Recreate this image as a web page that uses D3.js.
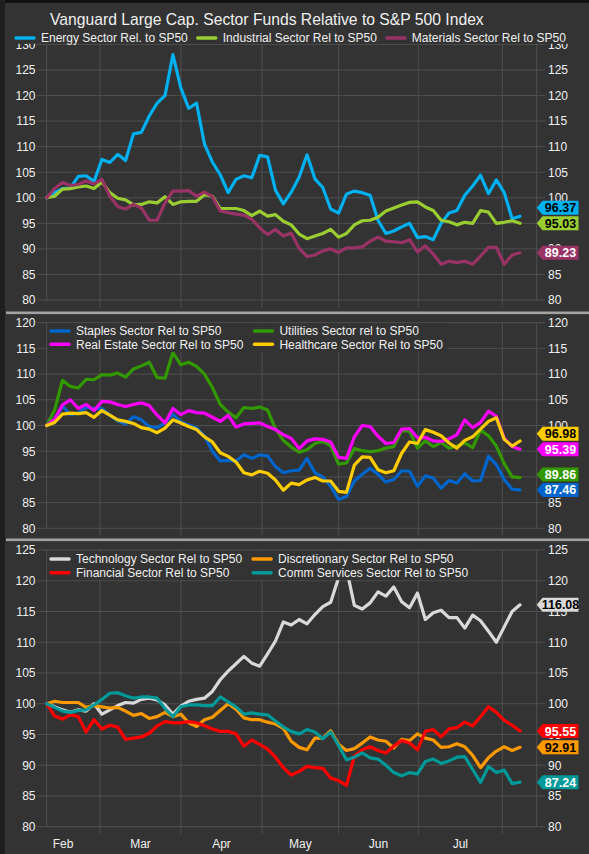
<!DOCTYPE html>
<html>
<head>
<meta charset="utf-8">
<script src="https://cdn.jsdelivr.net/npm/d3@7"></script>
<style>
  html, body { margin: 0; padding: 0; background: #333333; }
  svg { display: block; font-family: "Liberation Sans", Arial, sans-serif; }
</style>
</head>
<body>
<div id="chart"></div>
<script>
// ---- data (one value every ~2 sessions, Feb -> early Aug), all rebased to 100 ----
var monthLabels = ["Feb", "Mar", "Apr", "May", "Jun", "Jul"];
var monthStarts = [-2.6, 6.76, 17.03, 27.3, 37.02, 47.11, 57.76];   // in sample-index units

var ticksTop = [80, 85, 90, 95, 100, 105, 110, 115, 120, 125, 130];
var ticksMid = [80, 85, 90, 95, 100, 105, 110, 115, 120];
var ticksBot = [80, 85, 90, 95, 100, 105, 110, 115, 120, 125];

var energy = [100, 101, 101.8, 101.9, 104.2, 104.3, 103.2, 107.5, 106.9, 108.5,
  107.3, 112.5, 112.8, 116, 118.5, 120, 128, 121.5, 117.5, 118.5,
  110.5, 107, 104.5, 101, 103.6, 104.3, 103.9, 108.3, 108, 101.5,
  98.8, 101.1, 104, 108.4, 103.7, 102, 97.8, 97, 100.7, 101.3,
  101, 100.5, 95.6, 93, 93.5, 94.3, 95, 92.2, 92.4, 91.8,
  95, 97, 97.5, 100.5, 102.3, 104.4, 100.8, 103.5, 101, 95.9, 96.37];
var industrial = [100, 100.3, 101.7, 101.8, 102.1, 102.3, 101.8, 103.1, 101, 99.9,
  99.6, 98.6, 98.7, 99.2, 99, 100.2, 98.7, 99.2, 99.3, 99.3,
  100.6, 100.3, 97.9, 97.9, 97.9, 97.5, 96.5, 97.4, 96.4, 96.7,
  95.4, 94.7, 92.9, 92, 92.5, 93, 93.8, 92.3, 93, 94.7,
  95.5, 95.6, 96.2, 97.4, 98, 98.6, 99.1, 99.2, 98.2, 97.5,
  95.6, 95.3, 94.7, 95.2, 95, 97.5, 97.2, 95, 95.2, 95.5, 95.03];
var materials = [100, 101.8, 103, 102.4, 102.6, 103.3, 102.7, 103.6, 100.3, 98.3,
  97.8, 98.7, 98, 95.6, 95.6, 99, 101.3, 101.3, 101.4, 100.3,
  101.1, 100.2, 97.4, 97.1, 96.8, 96.6, 95.8, 94.1, 92.8, 93.8,
  92.5, 93.1, 90.1, 88.5, 88.8, 89.6, 90, 89.3, 90.2, 90.2,
  90.4, 91.5, 92.3, 91.5, 91.4, 91.2, 91.8, 89.4, 90.6, 89,
  87, 87.6, 87.3, 87.6, 87, 88.6, 90.3, 90.3, 87, 88.8, 89.23];

var staples = [100, 101, 103.8, 102.1, 102.4, 103.5, 103.3, 103.3, 102, 100.9,
  100.3, 101.7, 101.1, 99.8, 99.6, 100.5, 102.2, 100.7, 100.1, 99.5,
  98, 95, 93.1, 93.2, 93.1, 94.3, 93.6, 94.3, 94.1, 92,
  90.8, 91.2, 91.3, 93.6, 90.8, 90, 88.2, 85.6, 86.2, 89.2,
  90.5, 91.7, 90.5, 89, 89.5, 91.2, 91.1, 88.2, 90.2, 89.8,
  87.8, 89.3, 88.8, 90.6, 89.2, 89.3, 94, 92.4, 89.5, 87.6, 87.46];
var utilities = [100, 103, 108.8, 107.6, 107.3, 109, 108.9, 109.9, 109.8, 110.2,
  109.4, 111, 111.6, 112.3, 109.3, 109.2, 114.2, 111.8, 112.3, 111.5,
  110, 107.4, 104.1, 102.6, 101.5, 103.5, 103.3, 103.6, 103, 99.4,
  97.1, 95.8, 94.8, 95.3, 96.5, 96.9, 96.1, 92.5, 92.7, 95.5,
  95.1, 94.9, 95.1, 95.6, 95.9, 99, 98.9, 95.6, 97, 95.9,
  96.7, 95.6, 96, 96.6, 95.7, 99.1, 98, 96, 92.6, 90, 89.86];
var realEstate = [100, 101.2, 104, 105, 103.3, 104.1, 102.9, 104.7, 104.6, 104.1,
  103.7, 104.1, 104.4, 103.9, 102, 100.5, 103.3, 102.1, 102.9, 102.5,
  102.4, 101.6, 100.8, 102, 99.7, 100.3, 100.4, 100.5, 99.8, 99.2,
  98.2, 97.5, 95.5, 97, 97.4, 97.3, 96.8, 93.8, 93.6, 97.8,
  100, 99.8, 97.9, 96.5, 96.7, 99.3, 99.4, 97.6, 97.7, 97,
  96.9, 97.4, 98.2, 101.1, 99.6, 100.6, 102.8, 101.8, 97.5, 95.9, 95.39];
var healthcare = [100, 100.6, 102.2, 102.4, 102.3, 102.5, 101.6, 102.9, 102, 101.1,
  100.8, 100.4, 99.6, 99.3, 98.6, 99.5, 101.1, 100.5, 99.8, 99.2,
  97.8, 96.8, 94.7, 94, 92.9, 90.8, 90.4, 91.1, 90.7, 89.4,
  87.4, 88.8, 88.5, 89.4, 89.9, 89.2, 89.2, 87.2, 87, 92.3,
  93.9, 93.8, 91.4, 90.8, 91.2, 94.6, 96.8, 96.5, 99.2, 98.7,
  98, 96.6, 95.6, 97.1, 97.8, 99.3, 100.8, 101.5, 97.3, 96, 96.98];

var technology = [100, 99.5, 99, 98.6, 99, 98.8, 100, 98.3, 99, 99.7,
  100.2, 100.1, 100.7, 100.9, 100.6, 99.8, 98.3, 99.6, 100.4, 100.7,
  100.9, 102, 103.9, 105.3, 106.5, 107.7, 106.6, 106.1, 108.1, 110.2,
  113.3, 112.8, 113.7, 113, 114.5, 115.8, 116.5, 120.5, 122, 116,
  115.4, 116.4, 118.2, 117.5, 119, 116.6, 115.6, 118, 113.7, 114.8,
  115.2, 114, 114, 112.3, 114.4, 113.5, 111.8, 110, 112.5, 115, 116.08];
var discretionary = [100, 100.4, 100.2, 100.2, 100.2, 99.4, 99.7, 99.5, 99.3, 99.4,
  98.8, 98.1, 98.4, 97.6, 97.9, 98.6, 97.9, 98.3, 96.9, 96.3,
  97.4, 97.8, 98.9, 100, 99.1, 97.7, 97.4, 97.4, 97, 96.7,
  96, 93.9, 92.9, 92.5, 94.4, 94.4, 95.6, 93.4, 92.4, 92.7,
  93.6, 94.6, 94.1, 93.9, 92.8, 94.2, 94, 95.1, 94.4, 94.1,
  92.9, 93, 93.5, 93, 91.6, 89.6, 91.2, 92.3, 93, 92.4, 92.91];
var financial = [100, 98, 97.5, 98.2, 97.9, 95.4, 97.4, 95.9, 96.5, 96.2,
  94.2, 94.4, 94.6, 95.2, 96.4, 97.1, 96.9, 96.9, 97.1, 96.9,
  96.4, 95.9, 95.5, 95.5, 95.1, 93.1, 94.1, 93.4, 92.6, 91.3,
  89.6, 88.4, 89, 89.8, 89.6, 89.5, 87.9, 87.5, 86.7, 91.5,
  92.5, 93, 92.4, 92, 93.1, 94, 93.6, 92.5, 95.5, 95.8,
  94.6, 95.9, 96.1, 97, 96.4, 97.9, 99.5, 98.6, 97.3, 96.5, 95.55];
var commServices = [100, 99.4, 98.8, 98.6, 98.9, 99, 99.8, 100.7, 101.7, 101.8,
  101.3, 100.9, 101.1, 101.1, 100.9, 99.2, 97.9, 99.5, 99.8, 99.8,
  99.7, 99.7, 101.1, 100.3, 99.5, 98.3, 98.5, 98.3, 98.2, 97.2,
  96.2, 95.5, 95.1, 95.8, 95.4, 94.3, 95.4, 93.2, 90.9, 91.3,
  92, 91.2, 91, 90, 88.8, 88.3, 88.8, 88.6, 90.6, 91,
  90.3, 90.7, 91.3, 91.4, 89.3, 87.2, 89.8, 88.8, 89.2, 87, 87.24];

// ---- layout ----
var W = 589, H = 854;
var plotL = 46.7, plotR = 536.7;
var gridColor = "#4f4f4f", textColor = "#f0f0f0";

var panels = [
  { top: 44.4, bottom: 300, domain: [80, 130], ticks: ticksTop, legendRows: [38], legendX: 15,
    series: [
      { name: "Energy Sector Rel. to SP50", values: energy, color: "#00b0f0", label: "#000" },
      { name: "Industrial Sector Rel to SP50", values: industrial, color: "#9ACD32", label: "#000" },
      { name: "Materials Sector Rel to SP50", values: materials, color: "#993366", label: "#fff" }
    ] },
  { top: 322.7, bottom: 528.3, domain: [80, 120], ticks: ticksMid, legendRows: [331, 344.3], legendX: 50,
    series: [
      { name: "Staples Sector Rel to SP50", values: staples, color: "#0066cc", label: "#fff" },
      { name: "Utilities Sector rel to SP50", values: utilities, color: "#339900", label: "#fff" },
      { name: "Real Estate Sector Rel to SP50", values: realEstate, color: "#ff00ff", label: "#fff" },
      { name: "Healthcare Sector Rel to SP50", values: healthcare, color: "#ffcc00", label: "#000" }
    ] },
  { top: 550, bottom: 826.7, domain: [80, 125], ticks: ticksBot, legendRows: [559, 572.7], legendX: 50,
    series: [
      { name: "Technology Sector Rel to SP50", values: technology, color: "#d9d9d9", label: "#000" },
      { name: "Discretionary Sector Rel to SP50", values: discretionary, color: "#ff9900", label: "#000" },
      { name: "Financial Sector Rel to SP50", values: financial, color: "#ff0000", label: "#fff" },
      { name: "Comm Services Sector Rel to SP50", values: commServices, color: "#009999", label: "#fff" }
    ] }
];

var svg = d3.select("#chart").append("svg").attr("width", W).attr("height", H);
svg.append("rect").attr("width", W).attr("height", H).attr("fill", "#333333");
svg.append("rect").attr("width", W).attr("height", 3).attr("fill", "#111");
svg.append("rect").attr("width", 5).attr("height", H).attr("fill", "#1e1e1e");

var x = d3.scaleLinear().domain([0, energy.length - 1]).range([plotL, 520]);

svg.append("text").attr("x", 50).attr("y", 25)
  .attr("font-size", "15.7px").attr("fill", textColor)
  .text("Vanguard Large Cap. Sector Funds Relative to S&P 500 Index");

panels.forEach(function (p) {
  var g = svg.append("g");
  var y = d3.scaleLinear().domain(p.domain).range([p.bottom, p.top]);

  // horizontal grid + ticks on both sides
  g.selectAll(".hg").data(p.ticks).enter().append("line")
    .attr("x1", 37).attr("x2", 545)
    .attr("y1", function (d) { return y(d); }).attr("y2", function (d) { return y(d); })
    .attr("stroke", gridColor).attr("stroke-width", 1);

  // month boundaries
  g.selectAll(".vg").data(monthStarts.filter(function (m) { return m > 0; })).enter().append("line")
    .attr("x1", function (d) { return x(d); }).attr("x2", function (d) { return x(d); })
    .attr("y1", p.top).attr("y2", p.bottom + 7)
    .attr("stroke", gridColor).attr("stroke-width", 1);

  [plotL, plotR].forEach(function (ax) {
    g.append("line").attr("x1", ax).attr("x2", ax).attr("y1", p.top).attr("y2", p.bottom)
      .attr("stroke", gridColor).attr("stroke-width", 1);
  });

  // axis labels
  g.selectAll(".yl").data(p.ticks).enter().append("text")
    .attr("x", 35.5).attr("y", function (d) { return y(d); }).attr("dy", "0.36em")
    .attr("text-anchor", "end").attr("font-size", "12px").attr("fill", textColor)
    .text(function (d) { return d; });
  g.selectAll(".yr").data(p.ticks).enter().append("text")
    .attr("x", 548).attr("y", function (d) { return y(d); }).attr("dy", "0.36em")
    .attr("font-size", "12px").attr("fill", textColor)
    .text(function (d) { return d; });

  // series
  var line = d3.line()
    .x(function (d, i) { return x(i); })
    .y(function (d) { return y(d); });
  p.series.forEach(function (s) {
    g.append("path").attr("d", line(s.values))
      .attr("fill", "none").attr("stroke", s.color).attr("stroke-width", 3.2)
      .attr("stroke-linejoin", "round").attr("stroke-linecap", "round");
  });

  // legend
  var lg = g.append("g");
  var box = lg.append("rect").attr("fill", "#333333");
  var items = lg.selectAll(".li").data(p.series).enter().append("g");
  items.append("line")
    .attr("stroke", function (d) { return d.color; }).attr("stroke-width", 3.5)
    .attr("stroke-linecap", "round");
  items.append("text").attr("font-size", "12px").attr("fill", textColor).attr("dy", "0.36em")
    .text(function (d) { return d.name; });

  if (p.legendRows.length === 1) {
    var cx = p.legendX;
    items.each(function () {
      var it = d3.select(this);
      var ty = p.legendRows[0];
      it.select("line").attr("x1", cx + 1).attr("x2", cx + 19).attr("y1", ty).attr("y2", ty);
      var t = it.select("text").attr("x", cx + 26).attr("y", ty);
      cx = cx + 26 + t.node().getComputedTextLength() + 9;
    });
    box.attr("x", 5).attr("y", 28).attr("width", W - 5).attr("height", 15.8);
  } else {
    var col1 = 0, maxRight = 0;
    items.filter(function (d, i) { return i % 2 === 0; }).each(function () {
      col1 = Math.max(col1, d3.select(this).select("text").node().getComputedTextLength());
    });
    var colX = [p.legendX, p.legendX + 26 + col1 + 10];
    items.each(function (d, i) {
      var it = d3.select(this);
      var lx = colX[i % 2], ty = p.legendRows[Math.floor(i / 2)];
      it.select("line").attr("x1", lx + 1).attr("x2", lx + 19).attr("y1", ty).attr("y2", ty);
      var t = it.select("text").attr("x", lx + 26).attr("y", ty);
      maxRight = Math.max(maxRight, lx + 26 + t.node().getComputedTextLength());
    });
    box.attr("x", plotL + 0.8).attr("y", p.legendRows[0] - 7.5)
      .attr("width", maxRight + 4 - plotL)
      .attr("height", p.legendRows[1] - p.legendRows[0] + 15);
  }

  // last-value tags, pushed apart from the bottom up
  var tags = p.series.map(function (s) {
    var v = s.values[s.values.length - 1];
    return { s: s, v: v, y: y(v) };
  });
  tags.sort(function (a, b) { return b.y - a.y; });
  for (var k = 1; k < tags.length; k++) {
    if (tags[k - 1].y - tags[k].y < 15.5) tags[k].y = tags[k - 1].y - 15.5;
  }
  var tg = g.selectAll(".tag").data(tags).enter().append("g");
  tg.append("path")
    .attr("d", function (d) {
      var c = d.y;
      return "M" + plotR + "," + c + "L542.5," + (c - 7) + "L578.5," + (c - 7) +
        "L578.5," + (c + 7) + "L542.5," + (c + 7) + "Z";
    })
    .attr("fill", function (d) { return d.s.color; });
  tg.append("text").attr("x", 560.5).attr("y", function (d) { return d.y; }).attr("dy", "0.36em")
    .attr("text-anchor", "middle").attr("font-size", "12.5px").attr("font-weight", "bold")
    .attr("fill", function (d) { return d.s.label; })
    .text(function (d) { return d.v.toFixed(2); });
});

// separators between panels
[311.5, 538.5].forEach(function (sy) {
  svg.append("rect").attr("x", 6).attr("y", sy).attr("width", W - 6).attr("height", 2.6).attr("fill", "#a3a3a3");
});

// month labels centred in each month span
svg.selectAll(".ml").data(monthLabels).enter().append("text")
  .attr("x", function (d, i) { return x((monthStarts[i] + monthStarts[i + 1]) / 2); })
  .attr("y", 848)
  .attr("text-anchor", "middle").attr("font-size", "12px").attr("fill", textColor)
  .text(function (d) { return d; });
</script>
</body>
</html>
